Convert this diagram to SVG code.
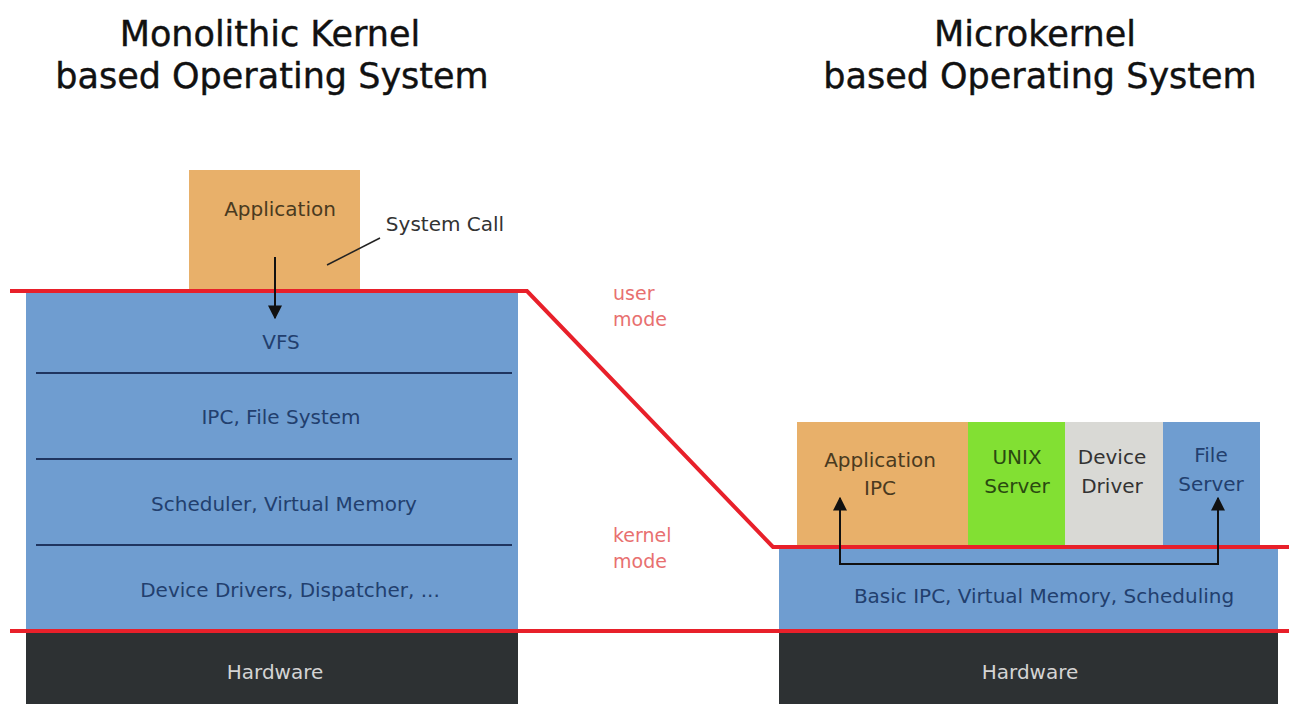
<svg xmlns="http://www.w3.org/2000/svg" width="1289" height="704" viewBox="0 0 1289 704">
<style>
.title{font-family:"DejaVu Sans",sans-serif;font-size:35px;fill:#111;text-anchor:middle;stroke:#111;stroke-width:0.4}
.lbl{font-family:"DejaVu Sans",sans-serif;font-size:20px;fill:#223f6e;text-anchor:middle}
.app{font-family:"DejaVu Sans",sans-serif;font-size:20px;fill:#4a3a20;text-anchor:middle}
.hw{font-family:"DejaVu Sans",sans-serif;font-size:20px;fill:#d4d4d4;text-anchor:middle}
.mode{font-family:"DejaVu Sans",sans-serif;font-size:19px;fill:#e87070}
.note{font-family:"DejaVu Sans",sans-serif;font-size:20px;fill:#333;text-anchor:middle}
.blue{fill:#6f9dd0}
.div{stroke:#1f3560;stroke-width:2}
.red{stroke:#e8202a;stroke-width:4;fill:none}
.arr{stroke:#111;stroke-width:2;fill:none}
</style>
<defs>
<marker id="ah" viewBox="0 0 10 10" refX="9" refY="5" markerWidth="7" markerHeight="7" orient="auto" markerUnits="strokeWidth">
<path d="M0,0 L10,5 L0,10 z" fill="#111"/>
</marker>
</defs>
<rect width="1289" height="704" fill="#ffffff"/>
<text class="title" x="270" y="46">Monolithic Kernel</text>
<text class="title" x="272" y="88">based Operating System</text>
<text class="title" x="1035" y="46">Microkernel</text>
<text class="title" x="1040" y="88">based Operating System</text>

<g id="mono-app"><rect x="189" y="170" width="171" height="121" fill="#e8b06a"/><text class="app" x="280" y="216">Application</text></g>
<g id="mono-vfs"><rect class="blue" x="26" y="291" width="492" height="82"/><text class="lbl" x="281" y="349">VFS</text></g>
<g id="mono-ipc"><rect class="blue" x="26" y="373" width="492" height="86"/><text class="lbl" x="281" y="424">IPC, File System</text></g>
<g id="mono-sched"><rect class="blue" x="26" y="459" width="492" height="86"/><text class="lbl" x="284" y="511">Scheduler, Virtual Memory</text></g>
<g id="mono-dev"><rect class="blue" x="26" y="545" width="492" height="86"/><text class="lbl" x="290" y="597">Device Drivers, Dispatcher, ...</text></g>
<g id="mono-hw"><rect x="26" y="631" width="492" height="73" fill="#2d3133"/><text class="hw" x="275" y="679">Hardware</text></g>
<line class="div" x1="36" y1="373" x2="512" y2="373"/>
<line class="div" x1="36" y1="459" x2="512" y2="459"/>
<line class="div" x1="36" y1="545" x2="512" y2="545"/>

<g id="micro-app"><rect x="797" y="422" width="172" height="125" fill="#e8b06a"/><text class="app" x="880" y="467">Application</text><text class="app" x="880" y="495">IPC</text></g>
<g id="micro-unix"><rect x="968" y="422" width="98" height="125" fill="#82e033"/><text class="app" x="1017" y="464" style="fill:#2a4a10">UNIX</text><text class="app" x="1017" y="493" style="fill:#2a4a10">Server</text></g>
<g id="micro-dev"><rect x="1065" y="422" width="99" height="125" fill="#d9d9d5"/><text class="app" x="1112" y="464" style="fill:#333">Device</text><text class="app" x="1112" y="493" style="fill:#333">Driver</text></g>
<g id="micro-file"><rect class="blue" x="1163" y="422" width="97" height="125"/><text class="lbl" x="1211" y="462">File</text><text class="lbl" x="1211" y="491">Server</text></g>
<g id="micro-basic"><rect class="blue" x="779" y="547" width="499" height="84"/><text class="lbl" x="1044" y="603">Basic IPC, Virtual Memory, Scheduling</text></g>
<g id="micro-hw"><rect x="779" y="631" width="499" height="73" fill="#2d3133"/><text class="hw" x="1030" y="679">Hardware</text></g>

<text class="mode" x="613" y="300">user</text>
<text class="mode" x="613" y="326">mode</text>
<text class="mode" x="613" y="542">kernel</text>
<text class="mode" x="613" y="568">mode</text>

<g id="connectors">
<polyline class="red" points="10,291 527,291 773,547 1289,547"/>
<line class="red" x1="10" y1="631" x2="1289" y2="631"/>
<line class="arr" x1="275" y1="257" x2="275" y2="318" marker-end="url(#ah)"/>
<line x1="327" y1="265" x2="380" y2="238" stroke="#222" stroke-width="1.5"/>
<text class="note" x="445" y="231">System Call</text>
<polyline class="arr" points="840,564 1218,564 1218,498" marker-end="url(#ah)"/>
<line class="arr" x1="840" y1="565" x2="840" y2="498" marker-end="url(#ah)"/>
</g>
</svg>
